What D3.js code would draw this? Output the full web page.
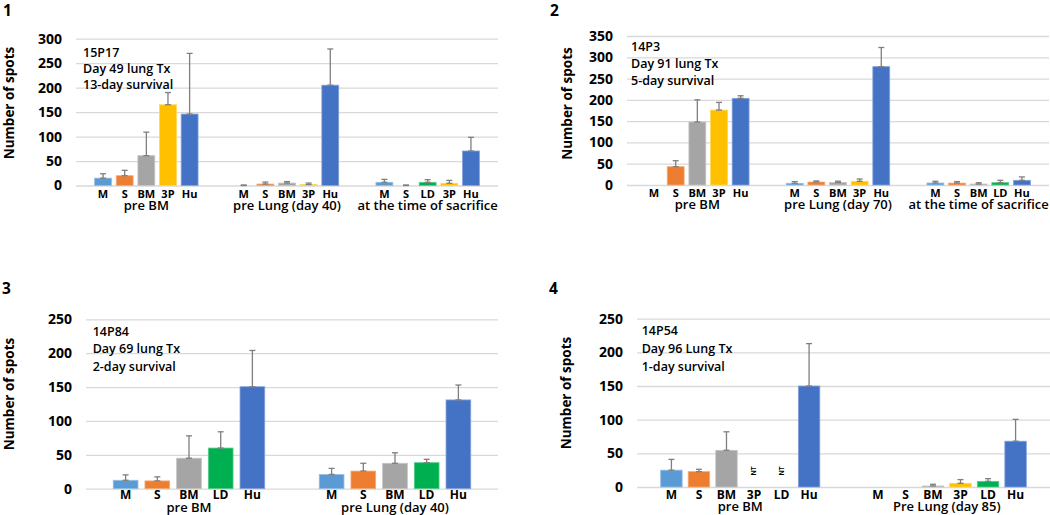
<!DOCTYPE html>
<html><head><meta charset="utf-8">
<script src="https://cdn.jsdelivr.net/npm/d3@7"></script>
<style>body{margin:0;background:#fff} svg{display:block} text{font-family:"Open Sans",sans-serif;fill:#000}</style>
</head><body><svg id="c" width="1050" height="515"></svg>
<script>
// ---------- data ----------
const catColors = {M:"#5B9BD5", S:"#ED7D31", BM:"#A5A5A5", "3P":"#FFC000", Hu:"#4472C4", LD:"#00B050"};

const p1Groups = ["pre BM","pre Lung (day 40)","at the time of sacrifice"];
const p1Cats = [["M","S","BM","3P","Hu"],["M","S","BM","3P","Hu"],["M","S","LD","3P","Hu"]];
const p1Values = [[15,20,61,165,146],[0,3,5,2,205],[6.5,0,6.5,4.5,70.5]];
const p1Errors = [[9,11,48,25,124],[1,4,3,3,74],[6,1,5.5,6,28]];
const p1Ticks = [0,50,100,150,200,250,300];
const p1Note = ["15P17","Day 49 lung Tx","13-day survival"];

const p2Groups = ["pre BM","pre Lung (day 70)","at the time of sacrifice"];
const p2Cats = [["M","S","BM","3P","Hu"],["M","S","BM","3P","Hu"],["M","S","BM","LD","Hu"]];
const p2Values = [[null,43,148,176,203.6],[4,7,6,8.6,278],[4.7,4.5,2.3,5.5,11]];
const p2Errors = [[null,14,52,18,6],[4,2.5,3,5.5,45],[4,3.5,3,5.5,8]];
const p2Ticks = [0,50,100,150,200,250,300,350];
const p2Note = ["14P3","Day 91 lung Tx","5-day survival"];

const p3Groups = ["pre BM","pre Lung (day 40)"];
const p3Cats = [["M","S","BM","LD","Hu"],["M","S","BM","LD","Hu"]];
const p3Values = [[12.4,11.5,45,60,150.5],[21,26,37.5,38.4,131]];
const p3Errors = [[8,6,33,24,53.5],[9,11.5,15.5,5,22]];
const p3Ticks = [0,50,100,150,200,250];
const p3Note = ["14P84","Day 69 lung Tx","2-day survival"];

const p4Groups = ["pre BM","Pre Lung (day 85)"];
const p4Cats = [["M","S","BM","3P","LD","Hu"],["M","S","BM","3P","LD","Hu"]];
const p4Values = [[25,22.8,54.5,null,null,150],[null,null,1.5,5.5,8.4,68]];
const p4Errors = [[16,3.5,27.5,null,null,63],[null,null,2.5,5.5,4,32.5]];
const p4Flags = [["","","","NT","NT",""],["","","","","",""]];
const p4Ticks = [0,50,100,150,200,250];
const p4Note = ["14P54","Day 96 Lung Tx","1-day survival"];

const yTitle = "Number of spots";

// ---------- layout ----------
const panels = [
  {num:"1", numX:3, numY:15.5, left:76, right:498, y0:185.5, yTop:38.7, ticks:p1Ticks,
   groups:p1Groups, cats:p1Cats, values:p1Values, errors:p1Errors, flags:null, note:p1Note,
   titleX:8.5, titleY:103, noteX:83, noteY:[57,73,89], catFont:11, catDy:12.6, grpDy:24},
  {num:"2", numX:550, numY:15.5, left:627, right:1049, y0:185, yTop:36, ticks:p2Ticks,
   groups:p2Groups, cats:p2Cats, values:p2Values, errors:p2Errors, flags:null, note:p2Note,
   titleX:567, titleY:103.5, noteX:631, noteY:[51,68,85], catFont:11, catDy:12.3, grpDy:23.5},
  {num:"3", numX:2, numY:294, left:86, right:498, y0:488.7, yTop:319.3, ticks:p3Ticks,
   groups:p3Groups, cats:p3Cats, values:p3Values, errors:p3Errors, flags:null, note:p3Note,
   titleX:8.5, titleY:394, noteX:92.7, noteY:[335.7,353.3,371], catFont:12, catDy:10.6, grpDy:23.5},
  {num:"4", numX:549, numY:294, left:637, right:1050, y0:487, yTop:318.7, ticks:p4Ticks,
   groups:p4Groups, cats:p4Cats, values:p4Values, errors:p4Errors, flags:p4Flags, note:p4Note,
   titleX:566, titleY:393, noteX:641.7, noteY:[335,353,370.5], catFont:12, catDy:11.5, grpDy:24}
];

const svg = d3.select("#c");

panels.forEach(p => {
  const g = svg.append("g");
  const nC = p.cats[0].length;
  const gStep = nC + 1.5;
  const lastSlot = (p.groups.length - 1) * gStep + nC - 1;
  const x = d3.scaleLinear().domain([-1.25, lastSlot + 1.25]).range([p.left, p.right]);
  const y = d3.scaleLinear().domain([0, d3.max(p.ticks)]).range([p.y0, p.yTop]);
  const step = x(1) - x(0);
  const bw = step * 0.78;

  // gridlines
  const grid = g.append("g").attr("transform", `translate(${p.left},0)`)
    .call(d3.axisLeft(y).tickValues(p.ticks).tickSize(-(p.right - p.left)).tickFormat(""));
  grid.select(".domain").remove();
  grid.selectAll("line").attr("stroke", "#d9d9d9").attr("stroke-width", 1.3);

  // y tick labels
  const ya = g.append("g").attr("transform", `translate(${p.left - 14},0)`)
    .call(d3.axisLeft(y).tickValues(p.ticks).tickSize(0).tickPadding(0));
  ya.select(".domain").remove();
  ya.selectAll("text").attr("font-family", '"Open Sans",sans-serif').attr("font-size", 14)
    .attr("font-weight", 700).attr("fill", "#000");

  // bars
  const items = [];
  p.groups.forEach((gr, gi) => {
    p.cats[gi].forEach((c, ci) => {
      items.push({slot: gi * gStep + ci, cat: c, v: p.values[gi][ci], e: p.errors[gi][ci],
                  flag: p.flags ? p.flags[gi][ci] : ""});
    });
  });

  g.selectAll("rect.bar").data(items.filter(d => d.v !== null && d.v > 0)).join("rect")
    .attr("class", "bar")
    .attr("x", d => x(d.slot) - bw / 2).attr("width", bw)
    .attr("y", d => y(d.v)).attr("height", d => y(0) - y(d.v))
    .attr("fill", d => catColors[d.cat])
    .attr("stroke", d => d3.interpolateRgb(catColors[d.cat], "#fff")(0.35))
    .attr("stroke-width", 0.8);

  // error bars
  const eb = items.filter(d => d.v !== null && d.e);
  const cap = 3;
  const eg = g.append("g").attr("stroke", "#7f7f7f").attr("stroke-width", 1.3);
  eg.selectAll("line.v").data(eb).join("line").attr("class", "v")
    .attr("x1", d => x(d.slot)).attr("x2", d => x(d.slot))
    .attr("y1", d => y(d.v)).attr("y2", d => y(d.v + d.e));
  eg.selectAll("line.t").data(eb).join("line").attr("class", "t")
    .attr("x1", d => x(d.slot) - cap).attr("x2", d => x(d.slot) + cap)
    .attr("y1", d => y(d.v + d.e)).attr("y2", d => y(d.v + d.e));
  eg.selectAll("line.b").data(eb).join("line").attr("class", "b")
    .attr("x1", d => x(d.slot) - cap).attr("x2", d => x(d.slot) + cap)
    .attr("y1", d => y(d.v)).attr("y2", d => y(d.v));

  // NT flags
  items.filter(d => d.flag).forEach(d => {
    g.append("text").text(d.flag)
      .attr("transform", `translate(${x(d.slot) + 2},${y(0) - 16}) rotate(-90)`)
      .attr("text-anchor", "middle").attr("font-size", 6.5).attr("font-weight", 700);
  });

  // category labels
  g.selectAll("text.cat").data(items).join("text").attr("class", "cat")
    .attr("x", d => x(d.slot)).attr("y", p.y0 + p.catDy)
    .attr("text-anchor", "middle").attr("font-size", p.catFont).attr("font-weight", 700)
    .text(d => d.cat);

  // group labels
  p.groups.forEach((gr, gi) => {
    g.append("text").attr("x", x(gi * gStep + (nC - 1) / 2)).attr("y", p.y0 + p.grpDy)
      .attr("text-anchor", "middle").attr("font-size", 13).attr("font-weight", 600).text(gr);
  });

  // notes
  p.note.forEach((t, i) => {
    g.append("text").attr("x", p.noteX).attr("y", p.noteY[i])
      .attr("font-size", 12.5).attr("font-weight", 600).text(t);
  });

  // y title
  g.append("text").attr("transform", `translate(${p.titleX},${p.titleY}) rotate(-90)`)
    .attr("text-anchor", "middle").attr("dominant-baseline", "central")
    .attr("font-size", 13.5).attr("font-weight", 700).text(yTitle);

  // panel number
  g.append("text").attr("x", p.numX).attr("y", p.numY)
    .attr("font-size", 15.5).attr("font-weight", 700).text(p.num);
});
</script>
</body></html>
